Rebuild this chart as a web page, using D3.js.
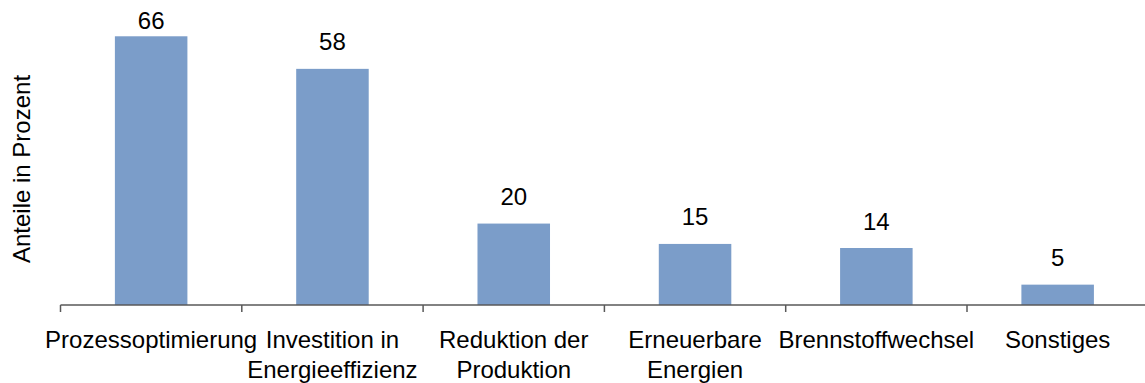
<!DOCTYPE html>
<html>
<head>
<meta charset="utf-8">
<script src="https://cdn.jsdelivr.net/npm/d3@7"></script>
<style>
  html, body { margin: 0; padding: 0; background: #fff; }
  svg text { font-family: "Liberation Sans", Arial, sans-serif; fill: #000; }
</style>
</head>
<body>
<svg id="chart" width="1145" height="383"></svg>
<script>
// Maßnahmen zur Emissionsminderung – Anteile in Prozent
const categories = [
  "Prozessoptimierung",
  "Investition in Energieeffizienz",
  "Reduktion der Produktion",
  "Erneuerbare Energien",
  "Brennstoffwechsel",
  "Sonstiges"
];
const values = [66, 58, 20, 15, 14, 5];
const yAxisTitle = "Anteile in Prozent";

const svg = d3.select("#chart");
const fontSize = 24;

const x0 = 60.5, step = 181.3;
const x = d3.scaleBand()
  .domain(categories)
  .range([x0, x0 + step * categories.length])
  .paddingInner(0.6)
  .paddingOuter(0.3);

const baseY = 305;
const y = d3.scaleLinear().domain([0, 70]).range([baseY, 20]);

// bars
svg.append("g").selectAll("rect")
  .data(values)
  .join("rect")
  .attr("x", (d, i) => x(categories[i]))
  .attr("y", d => y(d))
  .attr("width", x.bandwidth())
  .attr("height", d => baseY - y(d))
  .attr("fill", "#7B9DC9");

// value labels above bars
svg.append("g").selectAll("text")
  .data(values)
  .join("text")
  .attr("x", (d, i) => x(categories[i]) + x.bandwidth() / 2)
  .attr("y", d => Math.max(y(d) - 18.5, 28.5))
  .attr("text-anchor", "middle")
  .style("font-size", fontSize + "px")
  .text(d => d);

// category axis with tick marks at band boundaries
const axisG = svg.append("g");
axisG.append("line")
  .attr("x1", x0).attr("x2", 1145)
  .attr("y1", baseY).attr("y2", baseY)
  .attr("stroke", "#595959").attr("stroke-width", 1.5);
const boundaries = d3.range(categories.length + 1).map(i => x0 + step * i);
axisG.selectAll("line.tick")
  .data(boundaries)
  .join("line")
  .attr("class", "tick")
  .attr("x1", d => d).attr("x2", d => d)
  .attr("y1", baseY).attr("y2", baseY + 7)
  .attr("stroke", "#595959").attr("stroke-width", 1.5);

// wrapped category labels
const measure = svg.append("text").style("font-size", fontSize + "px").attr("visibility", "hidden");
function wrapLines(label, maxWidth) {
  const words = label.split(" ");
  const lines = [];
  let line = words[0];
  for (let k = 1; k < words.length; k++) {
    const trial = line + " " + words[k];
    measure.text(trial);
    if (measure.node().getComputedTextLength() > maxWidth) {
      lines.push(line);
      line = words[k];
    } else {
      line = trial;
    }
  }
  lines.push(line);
  return lines;
}
const labelG = svg.append("g");
categories.forEach(c => {
  const lines = wrapLines(c, step - 10);
  const t = labelG.append("text")
    .attr("text-anchor", "middle")
    .style("font-size", fontSize + "px");
  lines.forEach((ln, j) => {
    t.append("tspan")
      .attr("x", x(c) + x.bandwidth() / 2)
      .attr("y", 347.5 + j * 30.5)
      .text(ln);
  });
});
measure.remove();

// y-axis title
svg.append("text")
  .attr("transform", "translate(30,169) rotate(-90)")
  .attr("text-anchor", "middle")
  .style("font-size", fontSize + "px")
  .text(yAxisTitle);
</script>
</body>
</html>
